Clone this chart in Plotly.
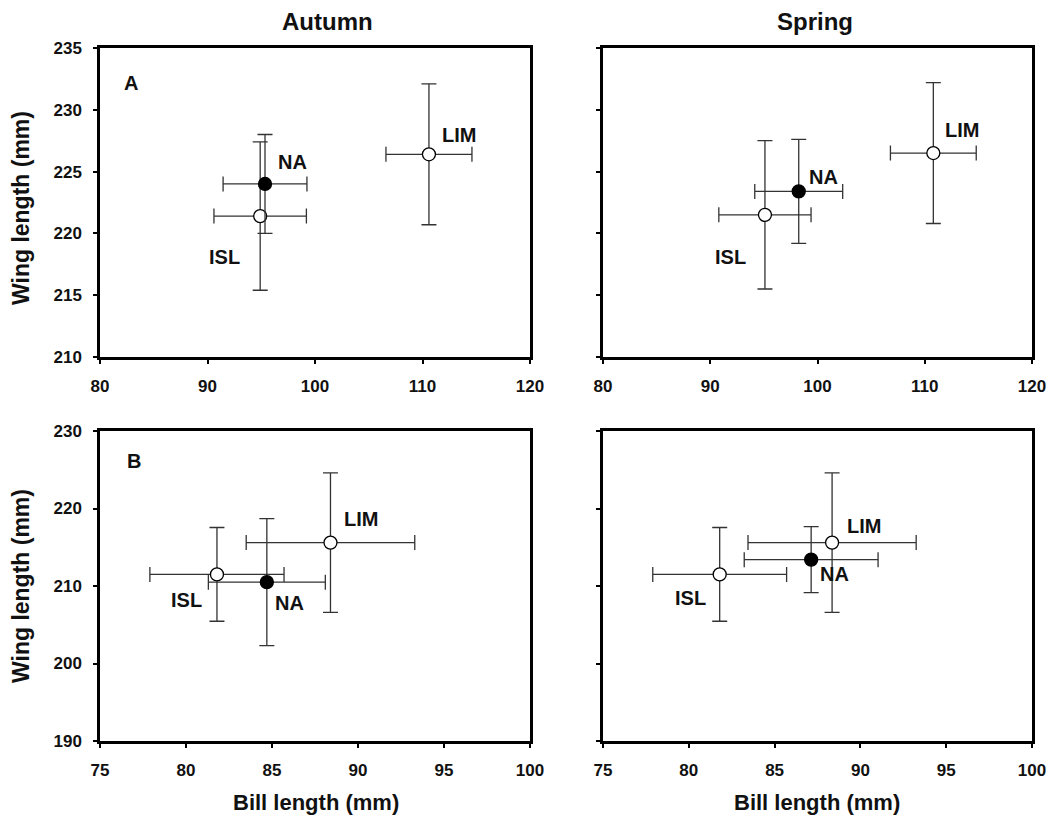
import plotly.graph_objects as go

groups = ["ISL", "NA", "LIM"]
filled = [False, True, False]

# Panel A (top row)
a_aut_bill = [94.9, 95.35, 110.6]
a_aut_bill_sd = [4.3, 3.9, 4.0]
a_aut_wing = [221.4, 224.0, 226.4]
a_aut_wing_sd = [6.0, 4.0, 5.7]

a_spr_bill = [95.1, 98.25, 110.8]
a_spr_bill_sd = [4.3, 4.1, 4.0]
a_spr_wing = [221.5, 223.4, 226.5]
a_spr_wing_sd = [6.0, 4.2, 5.7]

# Panel B (bottom row)
b_aut_bill = [81.8, 84.7, 88.4]
b_aut_bill_sd = [3.9, 3.4, 4.9]
b_aut_wing = [211.5, 210.5, 215.6]
b_aut_wing_sd = [6.05, 8.2, 9.0]

b_spr_bill = [81.8, 87.13, 88.35]
b_spr_bill_sd = [3.9, 3.9, 4.9]
b_spr_wing = [211.5, 213.4, 215.6]
b_spr_wing_sd = [6.05, 4.25, 9.0]

# label text positions (ISL, NA, LIM)
a_aut_lab = [(91.6, 218.1), (97.9, 225.8), (113.4, 228.0)]
a_spr_lab = [(91.9, 218.1), (100.6, 224.6), (113.5, 228.4)]
b_aut_lab = [(80.0, 208.2), (86.0, 207.8), (90.2, 218.7)]
b_spr_lab = [(80.1, 208.4), (88.5, 211.5), (90.2, 217.8)]

FONT = "Liberation Sans, Arial, sans-serif"
OFF = 8  # default body margin of the html page
W, H = 1058 - 2 * OFF, 824 - 2 * OFF
TXT = "#111111"

def px(x):
    return (x - OFF) / W

def py(y):
    return 1 - (y - OFF) / H

panels = [
    (a_aut_bill, a_aut_bill_sd, a_aut_wing, a_aut_wing_sd, a_aut_lab, "x", "y"),
    (a_spr_bill, a_spr_bill_sd, a_spr_wing, a_spr_wing_sd, a_spr_lab, "x2", "y2"),
    (b_aut_bill, b_aut_bill_sd, b_aut_wing, b_aut_wing_sd, b_aut_lab, "x3", "y3"),
    (b_spr_bill, b_spr_bill_sd, b_spr_wing, b_spr_wing_sd, b_spr_lab, "x4", "y4"),
]

fig = go.Figure()
annotations = []
for bill, bsd, wing, wsd, labs, xa, ya in panels:
    for i, g in enumerate(groups):
        fig.add_trace(go.Scatter(
            x=[bill[i]], y=[wing[i]], xaxis=xa, yaxis=ya, mode="markers",
            marker=dict(size=13, color="black" if filled[i] else "white",
                        line=dict(color="black", width=1.3)),
            error_x=dict(type="data", array=[bsd[i]], color="#333333", thickness=1.3, width=7.5),
            error_y=dict(type="data", array=[wsd[i]], color="#333333", thickness=1.3, width=7.5),
            showlegend=False, name=g, cliponaxis=False,
        ))
        annotations.append(dict(x=labs[i][0], y=labs[i][1], xref=xa, yref=ya, text="<b>%s</b>" % g,
                                xanchor="center", yanchor="middle",
                                showarrow=False, font=dict(family=FONT, size=20, color=TXT)))

annotations.append(dict(x=82.9, y=232.2, xref="x", yref="y", text="<b>A</b>", showarrow=False,
                        xanchor="center", yanchor="middle",
                        font=dict(family=FONT, size=20, color=TXT)))
annotations.append(dict(x=77.0, y=226.1, xref="x3", yref="y3", text="<b>B</b>", showarrow=False,
                        xanchor="center", yanchor="middle",
                        font=dict(family=FONT, size=20, color=TXT)))

# Column titles
for xc, t in ((327, "Autumn"), (815, "Spring")):
    annotations.append(dict(x=px(xc), y=py(21), xref="paper", yref="paper", text="<b>%s</b>" % t,
                            xanchor="center", yanchor="middle",
                            showarrow=False, font=dict(family=FONT, size=24, color=TXT)))
# axis titles
for xc in (316, 817):
    annotations.append(dict(x=px(xc), y=py(802), xref="paper", yref="paper", text="<b>Bill length (mm)</b>",
                            xanchor="center", yanchor="middle",
                            showarrow=False, font=dict(family=FONT, size=22, color=TXT)))
for yc in (208, 586):
    annotations.append(dict(x=px(21), y=py(yc), xref="paper", yref="paper", text="<b>Wing length (mm)</b>",
                            xanchor="center", yanchor="middle",
                            textangle=-90, showarrow=False, font=dict(family=FONT, size=23, color=TXT)))

xl = [px(100), px(530)]
xr = [px(603), px(1032)]
yt = [py(357), py(48)]
yb = [py(741), py(431)]

def ax(domain, rng, dtick, labels=True, anchor=None):
    d = dict(domain=domain, range=rng, dtick=dtick, tick0=rng[0], showgrid=False, zeroline=False,
             showline=True, linecolor="black", linewidth=2.5, mirror=True,
             ticks="outside", ticklen=4, tickwidth=2, tickcolor="black",
             showticklabels=labels, automargin=False, ticklabelstandoff=8,
             tickfont=dict(family=FONT, size=17, color=TXT, weight="bold"))
    if anchor:
        d["anchor"] = anchor
    return d

fig.update_layout(
    width=W, height=H, margin=dict(l=0, r=0, t=0, b=0, pad=0, autoexpand=False),
    plot_bgcolor="white", paper_bgcolor="white",
    xaxis=ax(xl, [80, 120], 10, anchor="y"),
    yaxis=ax(yt, [210, 235], 5, anchor="x"),
    xaxis2=ax(xr, [80, 120], 10, anchor="y2"),
    yaxis2=ax(yt, [210, 235], 5, labels=False, anchor="x2"),
    xaxis3=ax(xl, [75, 100], 5, anchor="y3"),
    yaxis3=ax(yb, [190, 230], 10, anchor="x3"),
    xaxis4=ax(xr, [75, 100], 5, anchor="y4"),
    yaxis4=ax(yb, [190, 230], 10, labels=False, anchor="x4"),
    annotations=annotations,
)

fig.write_html("out.html")
